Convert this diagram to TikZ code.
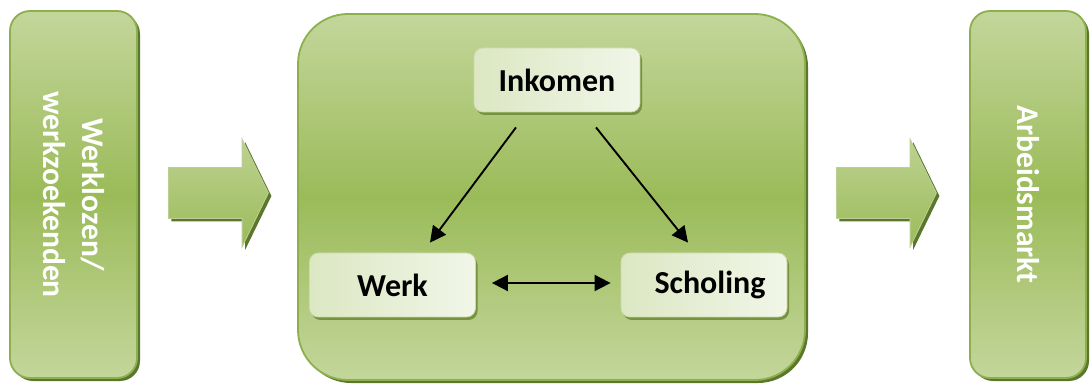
\documentclass[tikz,border=0pt]{standalone}
\usepackage{fontspec}
\setmainfont{Carlito}
\usepackage{tikz}
\usetikzlibrary{arrows.meta,positioning,calc,shapes.arrows,shadows}
\definecolor{oliveLight}{HTML}{C3D69B}
\definecolor{oliveMid}{HTML}{9BBB59}
\definecolor{oliveEdge}{HTML}{8DAF4E}
\definecolor{oliveShade}{HTML}{5C772C}
\definecolor{paleA}{HTML}{DCE7C3}
\definecolor{paleB}{HTML}{F1F6E8}

\begin{document}
\begin{tikzpicture}[x=1pt,y=1pt,
  sidebox/.style={draw=oliveEdge,line width=1.8pt,rounded corners=20pt,
                  top color=oliveLight,bottom color=oliveLight,middle color=oliveMid,
                  minimum width=127pt,minimum height=367pt,
                  drop shadow={shadow xshift=3pt,shadow yshift=-3pt,fill=oliveShade,opacity=1}},
  sidetext/.style={rotate=-90,text=white,align=center,
                   font=\fontsize{31.5}{39}\selectfont\bfseries},
  centerbox/.style={sidebox,rounded corners=50pt,
                    minimum width=507pt,minimum height=366pt},
  innerbox/.style={draw=oliveEdge!45,line width=0.8pt,rounded corners=9pt,
                   left color=paleA,right color=paleB,
                   minimum width=166pt,minimum height=64pt,
                   font=\fontsize{32}{38}\selectfont\bfseries,
                   drop shadow={shadow xshift=2pt,shadow yshift=-3pt,fill=oliveShade!60!oliveMid,opacity=1}},
  blockarrow/.style={single arrow,draw=oliveEdge!60!white,line width=0.8pt,
                     top color=oliveLight!85!oliveMid,bottom color=oliveMid,
                     minimum height=100pt,inner xsep=0pt,inner ysep=25pt,
                     single arrow head extend=28.5pt,single arrow tip angle=128,
                     anchor=tail,
                     drop shadow={shadow xshift=3pt,shadow yshift=-3pt,fill=oliveShade,opacity=1}},
  link/.style={line width=1.9pt,-{Triangle[length=16pt,width=16pt]}},
]
\useasboundingbox (0,0) rectangle (1090,383);

% instroom
\node[sidebox] (werkloos) at (73.5,188.5) {};
\node[sidetext] (werklooslabel) at (werkloos) {Werklozen/\\werkzoekenden};
\node[blockarrow] (instroom) at (168,190) {};

% traject
\node[centerbox] (traject) at (551.5,186) {};
\node[innerbox] (inkomen) at (557,303) {Inkomen};
\node[innerbox] (werk) at (392.5,98) {Werk};
\node[innerbox] (scholing) at (704,98) {\hspace*{12pt}Scholing};

\draw[link] ($(inkomen.south)+(-41,-15)$) -- ($(werk.north)+(37.5,10)$);
\draw[link] ($(inkomen.south)+(39,-15)$) -- ($(scholing.north)+(-16,10)$);
\draw[link,{Triangle[length=16pt,width=16pt]}-{Triangle[length=16pt,width=16pt]}]
  ($(werk.east)+(16,2)$) -- ($(scholing.west)+(-10,2)$);

% uitstroom
\node[blockarrow] (uitstroom) at (836,190) {};
\node[sidebox,minimum width=116pt] (arbeidsmarkt) at (1028,188.5) {};
\node[sidetext] (arbeidsmarktlabel) at (arbeidsmarkt) {Arbeidsmarkt};
\end{tikzpicture}
\end{document}
